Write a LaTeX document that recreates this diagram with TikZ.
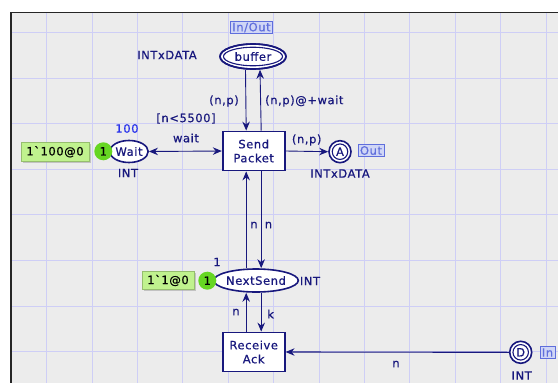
\documentclass[tikz,border=0pt]{standalone}
\usepackage{fontspec}
\newfontfamily\cpnfont[LetterSpace=5,FakeBold=0.6]{DejaVu Sans}
\usetikzlibrary{shapes.geometric,arrows.meta,shadows}
\definecolor{navy}{RGB}{24,24,125}
\definecolor{gridc}{RGB}{206,206,246}
\definecolor{bgc}{RGB}{236,236,236}
\definecolor{portc}{RGB}{95,110,220}
\definecolor{portfill}{RGB}{208,214,246}
\definecolor{tokc}{RGB}{102,214,34}
\definecolor{markc}{RGB}{192,242,142}
\definecolor{markb}{RGB}{150,190,110}
\definecolor{bluec}{RGB}{40,50,235}
\tikzset{
  cpn/.style={font=\cpnfont\fontsize{11.5}{14}\selectfont},
  lbl/.style={cpn, text=navy, inner sep=0pt},
  trans/.style={rectangle, draw=navy, line width=1.8pt, fill=white, minimum width=62pt, minimum height=39pt, inner sep=0pt, align=center, lbl},
  place/.style={ellipse, draw=navy, line width=1.6pt, fill=white, inner sep=0pt, lbl},
  innerplace/.style={ellipse, draw=navy, line width=1.1pt, inner sep=0pt},
  tip/.tip={Stealth[length=9pt,width=7.5pt,inset=3pt]},
  arc/.style={draw=navy, line width=0.9pt, -tip},
  biarc/.style={draw=navy, line width=0.9pt, tip-tip},
  port/.style={rectangle, draw=portc, fill=portfill, text=portc, line width=0.8pt, cpn, inner xsep=2pt, inner ysep=1pt, minimum height=12pt},
  token/.style={circle, fill=tokc, minimum size=18pt, inner sep=0pt, cpn, text=black},
  marking/.style={rectangle, fill=markc, draw=markb, line width=0.5pt, cpn, text=black, inner sep=0pt,
    drop shadow={shadow xshift=1.5pt, shadow yshift=-1.5pt, fill=black!35, opacity=0.6}}
}
\begin{document}
\begin{tikzpicture}[x=1pt,y=-1pt]
\useasboundingbox (0,0) rectangle (558,383);
\fill[white] (0,0) rectangle (558,383);
\fill[bgc] (11,12.5) rectangle (558,383);
\foreach \k in {0,...,11} \draw[gridc, line width=0.8pt] ({46.6+45.4*\k},12.5) -- ({46.6+45.4*\k},383);
\foreach \k in {0,...,7} \draw[gridc, line width=0.8pt] (11,{32.4+45.6*\k}) -- (558,{32.4+45.6*\k});
\draw[line width=1.4pt, black!85] (11,383) -- (11,12.5) -- (558,12.5);

% places and transitions
\node[place, minimum width=66pt, minimum height=25pt] (buffer) at (253,56.5) {};
\node[innerplace, minimum width=59pt, minimum height=18.5pt, lbl] (bufferin) at (buffer.center) {buffer};
\node[trans] (sp) at (253.7,151) {Send\\Packet};
\node[trans] (ra) at (253.7,352) {Receive\\Ack};
\node[place, minimum width=37pt, minimum height=22pt] (wait) at (129,151.5) {Wait};
\node[place, minimum width=76pt, minimum height=23pt] (ns) at (256,280.5) {NextSend};
\node[place, circle, minimum size=22pt] (A) at (340,151.7) {};
\node[innerplace, circle, minimum size=15.5pt, lbl] (Ain) at (A.center) {A};
\node[place, circle, minimum size=22pt] (D) at (520.7,352.3) {};
\node[innerplace, circle, minimum size=15.5pt, lbl] (Din) at (D.center) {D};

% arcs
\draw[arc] ([xshift=-7.5pt]buffer.south) -- ([xshift=-7.5pt]sp.north);
\draw[arc] ([xshift=7.5pt]sp.north) -- ([xshift=7pt]buffer.south);
\draw[biarc] (wait.east) -- (sp.west);
\draw[arc] (sp.east) -- (A.west);
\draw[arc] ([xshift=-7.5pt]sp.south |- ns.north) -- ([xshift=-7.5pt]sp.south);
\draw[arc] ([xshift=7.5pt]sp.south) -- ([xshift=7.5pt]sp.south |- ns.north);
\draw[arc] ([xshift=-7.5pt]ra.north) -- ([xshift=-7.5pt]ra.north |- ns.south);
\draw[arc] ([xshift=7.5pt]ra.north |- ns.south) -- ([xshift=7.5pt]ra.north);
\draw[arc, line width=1.1pt] (D.west) -- (ra.east);

% redraw place outline above arc ends
\node[place, minimum width=66pt, minimum height=25pt, fill=none] (bufferrim) at (buffer.center) {};

% ports
\node[port] (pio) at (251.5,27.5) {In/Out};
\node[port] (pout) at (371,150.5) {Out};
\node[port, anchor=west] (pin) at (539.5,352.5) {In};

% markings and tokens
\node[token] (tok1) at (103.3,151.3) {1};
\node[marking, minimum width=68pt, minimum height=19pt] (m1) at (55,151.8) {1\symbol{96}100@0};
\node[token] (tok2) at (207.3,280.7) {1};
\node[marking, minimum width=52pt, minimum height=18pt] (m2) at (168,280.5) {1\symbol{96}1@0};

% labels
\node[lbl] (t1) at (167,55) {INTxDATA};
\node[lbl] (a1) at (224,101) {(n,p)};
\node[lbl, anchor=west] (a2) at (265,101) {(n,p)@+wait};
\node[lbl] (g1) at (186,118.5) {{[n<5500]}};
\node[lbl] (a3) at (186,138) {wait};
\node[lbl, text=bluec] (i1) at (127,128.5) {100};
\node[lbl] (t2) at (128,173) {INT};
\node[lbl] (a4) at (306.7,140) {(n,p)};
\node[lbl] (t3) at (340,173.5) {INTxDATA};
\node[lbl] (a5) at (254,225) {n};
\node[lbl] (a6) at (268.5,225) {n};
\node[lbl] (i2) at (217,262) {1};
\node[lbl] (t4) at (310,281) {INT};
\node[lbl] (a7) at (236,312) {n};
\node[lbl] (a8) at (270.7,314) {k};
\node[lbl] (a9) at (396,364) {n};
\node[lbl] (t5) at (521.7,375.5) {INT};
\end{tikzpicture}
\end{document}
